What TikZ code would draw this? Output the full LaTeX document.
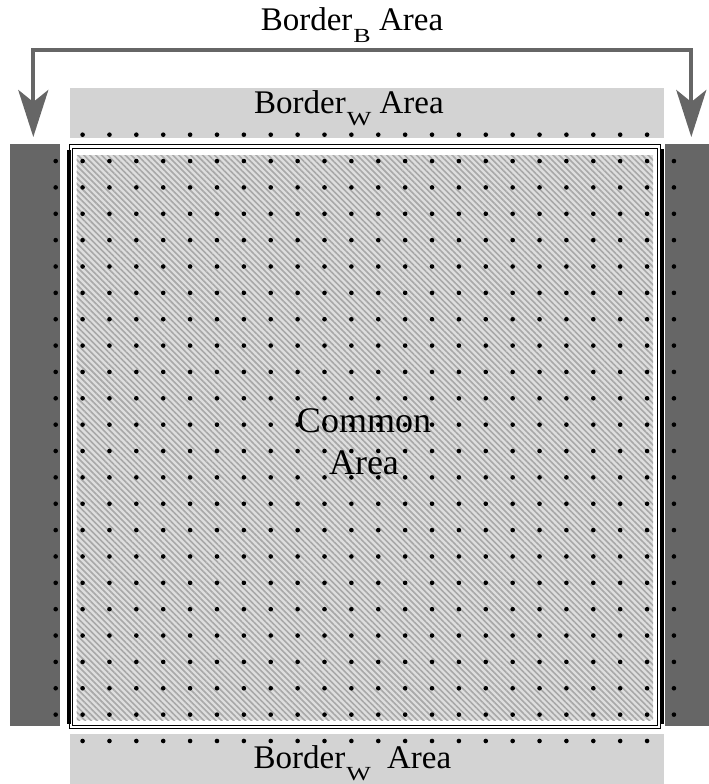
\documentclass[tikz,border=0pt]{standalone}
\usepackage{fontspec}
\setmainfont{Liberation Serif}
\usepackage{graphicx}
\usepackage{tikz}
\usetikzlibrary{arrows.meta,patterns.meta}
\definecolor{darkbar}{HTML}{666666}
\definecolor{lightbar}{HTML}{D3D3D3}
\definecolor{hatchbg}{HTML}{DEDEDE}
\definecolor{hatchln}{HTML}{A8A8A8}
\newcommand{\lowidx}[1]{\hspace{1pt}\raisebox{-12pt}{\fontsize{20}{20}\selectfont\scalebox{1.3}[1]{#1}}}

\begin{document}
\begin{tikzpicture}[x=1pt, y=-1pt,
      barB/.style={fill=darkbar, draw=none, inner sep=0pt, minimum width=50pt, minimum height=582pt},
      barW/.style={fill=lightbar, draw=none, inner sep=0pt, minimum width=594pt, minimum height=50pt},
      label/.style={font=\fontsize{33}{33}\selectfont, inner sep=0pt, anchor=base},
      dot/.style={circle, fill=black, inner sep=0pt, minimum size=4.6pt},
      bigarrow/.style={{Stealth[length=47pt, width=30pt, inset=12pt]}-{Stealth[length=47pt, width=30pt, inset=12pt]},
        line width=4pt, draw=darkbar, line join=miter},
    ]
    \useasboundingbox (0,0) rectangle (709,784);

    % Border areas
    \node[barB] (leftB) at (35,435) {};
    \node[barB] (rightB) at (689.5,435) {};
    \node[barW] (topW) at (367,113) {};
    \node[barW] (botW) at (367,759) {};

    % Common area with its frame
    \draw[double=white, double distance=2.5pt, line width=0.9pt] (71,146.5) rectangle (659,727);
    \draw[line width=4pt] (68.7,150) -- (68.7,724);
    \draw[line width=4pt] (661.5,149) -- (661.5,724);
    \fill[hatchbg] (76.7,155) rectangle (653,720);
    \fill[pattern={Lines[angle=-45, distance=4.2pt, line width=1.6pt]}, pattern color=hatchln]
      (76.7,155) rectangle (653,720);

    % Dot grid
    \foreach \i in {0,...,23}
      \foreach \j in {1,...,22}
        \node[dot] (d\i-\j) at ({55.7+26.88*\i},{134.7+26.36*\j}) {};
    \foreach \i in {1,...,22}
      \foreach \j in {0,23}
        \node[dot] (d\i-\j) at ({55.7+26.88*\i},{134.7+26.36*\j}) {};

    % Labels
    \node[label] (titleB) at (352,31) {Border\lowidx{B} Area};
    \node[label] (textW1) at (349,113.3) {Border\lowidx{W} Area};
    \node[label] (textW2) at (352.5,768) {Border\lowidx{W}\hspace{8pt} Area};
    \node[font=\fontsize{36}{42}\selectfont, align=center, inner sep=0pt] (common) at (364,442)
      {Common\\Area};

    % Arrow from border to border
    \coordinate (tipL) at (33.3,137);
    \coordinate (tipR) at (691.3,137);
    \draw[bigarrow] (tipL) -- ++(0,-87) -| (tipR);
  \end{tikzpicture}
\end{document}
